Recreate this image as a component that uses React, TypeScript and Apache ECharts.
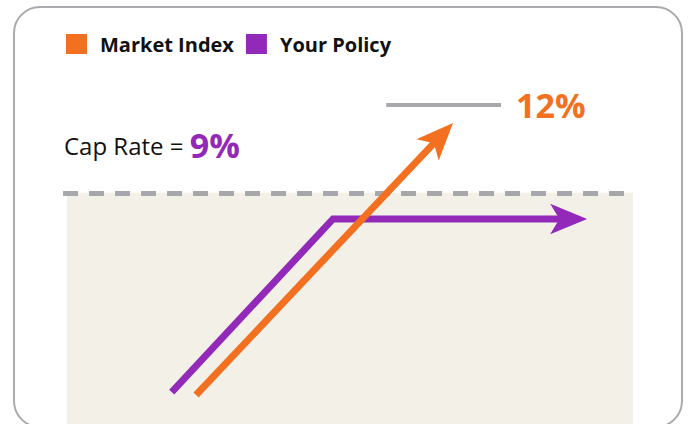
import React, { useEffect, useRef } from "react";
import * as echarts from "echarts";

// Abstract diagram coordinates (x: market movement, y: credited return scale)
const seriesNames = ["Market Index", "Your Policy"];
const seriesColors = ["#f37021", "#9229b8"];
const marketIndex: number[][] = [[22.8, 0], [66.5, 90.3]];
const marketArrowTip: number[] = [68.2, 93.8];
const yourPolicy: number[][] = [[18.5, 1], [47, 60.7], [89.4, 60.7]];
const policyArrowTip: number[] = [91.9, 60.7];
const capLine: number[][] = [[-0.7, 69.7], [100, 69.7]];
const maxLine: number[][] = [[56.4, 100], [76.7, 100]];
const capRateText = "Cap Rate = ";
const capRateValue = "9%";
const maxRateValue = "12%";

const FONT = "'Open Sans', sans-serif";

export default function App() {
  const ref = useRef<HTMLDivElement>(null);
  useEffect(() => {
    if (!ref.current) return;
    const chart = echarts.init(ref.current, null, { renderer: "svg" });
    const bodies = [marketIndex, yourPolicy];
    const tips = [marketArrowTip, policyArrowTip];
    const series: any[] = [
      {
        type: "lines",
        coordinateSystem: "cartesian2d",
        name: "cap",
        clip: false,
        z: 1,
        symbol: "none",
        lineStyle: { color: "#a7a8ac", width: 5, type: [15, 11], opacity: 1 },
        data: [{ coords: capLine }],
        markArea: {
          silent: true,
          itemStyle: { color: "#f3f0e8" },
          data: [[{ coord: [0, -10] }, { coord: [100, capLine[0][1]] }]],
        },
      },
      {
        type: "lines",
        coordinateSystem: "cartesian2d",
        name: "max",
        clip: false,
        symbol: "none",
        lineStyle: { color: "#a8a9ad", width: 4, opacity: 1 },
        label: {
          show: true,
          position: "end",
          distance: 15,
          formatter: maxRateValue,
          fontFamily: FONT,
          fontSize: 34,
          fontWeight: "bold",
          color: seriesColors[0],
        },
        data: [{ coords: maxLine }],
      },
    ];
    // draw policy first (under), market on top
    [1, 0].forEach((i, k) => {
      const body = bodies[i];
      series.push({
        type: "line",
        name: seriesNames[i],
        data: body,
        symbol: "none",
        clip: false,
        z: 3 + k,
        color: seriesColors[i],
        lineStyle: { color: seriesColors[i], width: 7, cap: "butt", join: "miter" },
      });
      series.push({
        type: "lines",
        coordinateSystem: "cartesian2d",
        name: seriesNames[i] + " arrow",
        clip: false,
        z: 3 + k,
        symbol: ["none", "arrow"],
        symbolSize: [1, [23, 37]],
        itemStyle: { color: seriesColors[i] },
        lineStyle: { color: seriesColors[i], width: 0, opacity: 1 },
        data: [{ coords: [body[body.length - 1], tips[i]] }],
      });
    });
    chart.setOption({
      animation: false,
      backgroundColor: "#ffffff",
      textStyle: { fontFamily: FONT },
      grid: { left: 67, right: 55, top: 105, bottom: 0 },
      xAxis: { type: "value", min: 0, max: 100, show: false },
      yAxis: { type: "value", min: -10, max: 100, show: false },
      legend: {
        data: seriesNames,
        left: 66,
        top: 34,
        padding: 0,
        icon: "rect",
        itemWidth: 21,
        itemHeight: 20,
        itemGap: 12,
        textStyle: {
          fontFamily: FONT,
          fontWeight: "bold",
          fontSize: 20,
          color: "#111111",
          padding: [0, 0, 0, 8],
        },
      },
      title: {
        left: 64,
        top: 125,
        padding: 0,
        text: `{a|${capRateText}}{b|${capRateValue}}`,
        textStyle: {
          rich: {
            a: { fontFamily: FONT, fontSize: 24, fontWeight: "normal", color: "#111111", lineHeight: 40 },
            b: { fontFamily: FONT, fontSize: 34, fontWeight: "bold", color: seriesColors[1], lineHeight: 40 },
          },
        },
      },
      graphic: [
        {
          type: "rect",
          shape: { x: 14, y: 7, width: 668, height: 420, r: 26 },
          style: { fill: "none", stroke: "#aaaaae", lineWidth: 2 },
          z: 100,
        },
      ],
      series,
    });
    return () => chart.dispose();
  }, []);
  return (
    <div
      ref={ref}
      style={{ position: "fixed", left: 0, top: 0, width: 688, height: 424 }}
    />
  );
}
